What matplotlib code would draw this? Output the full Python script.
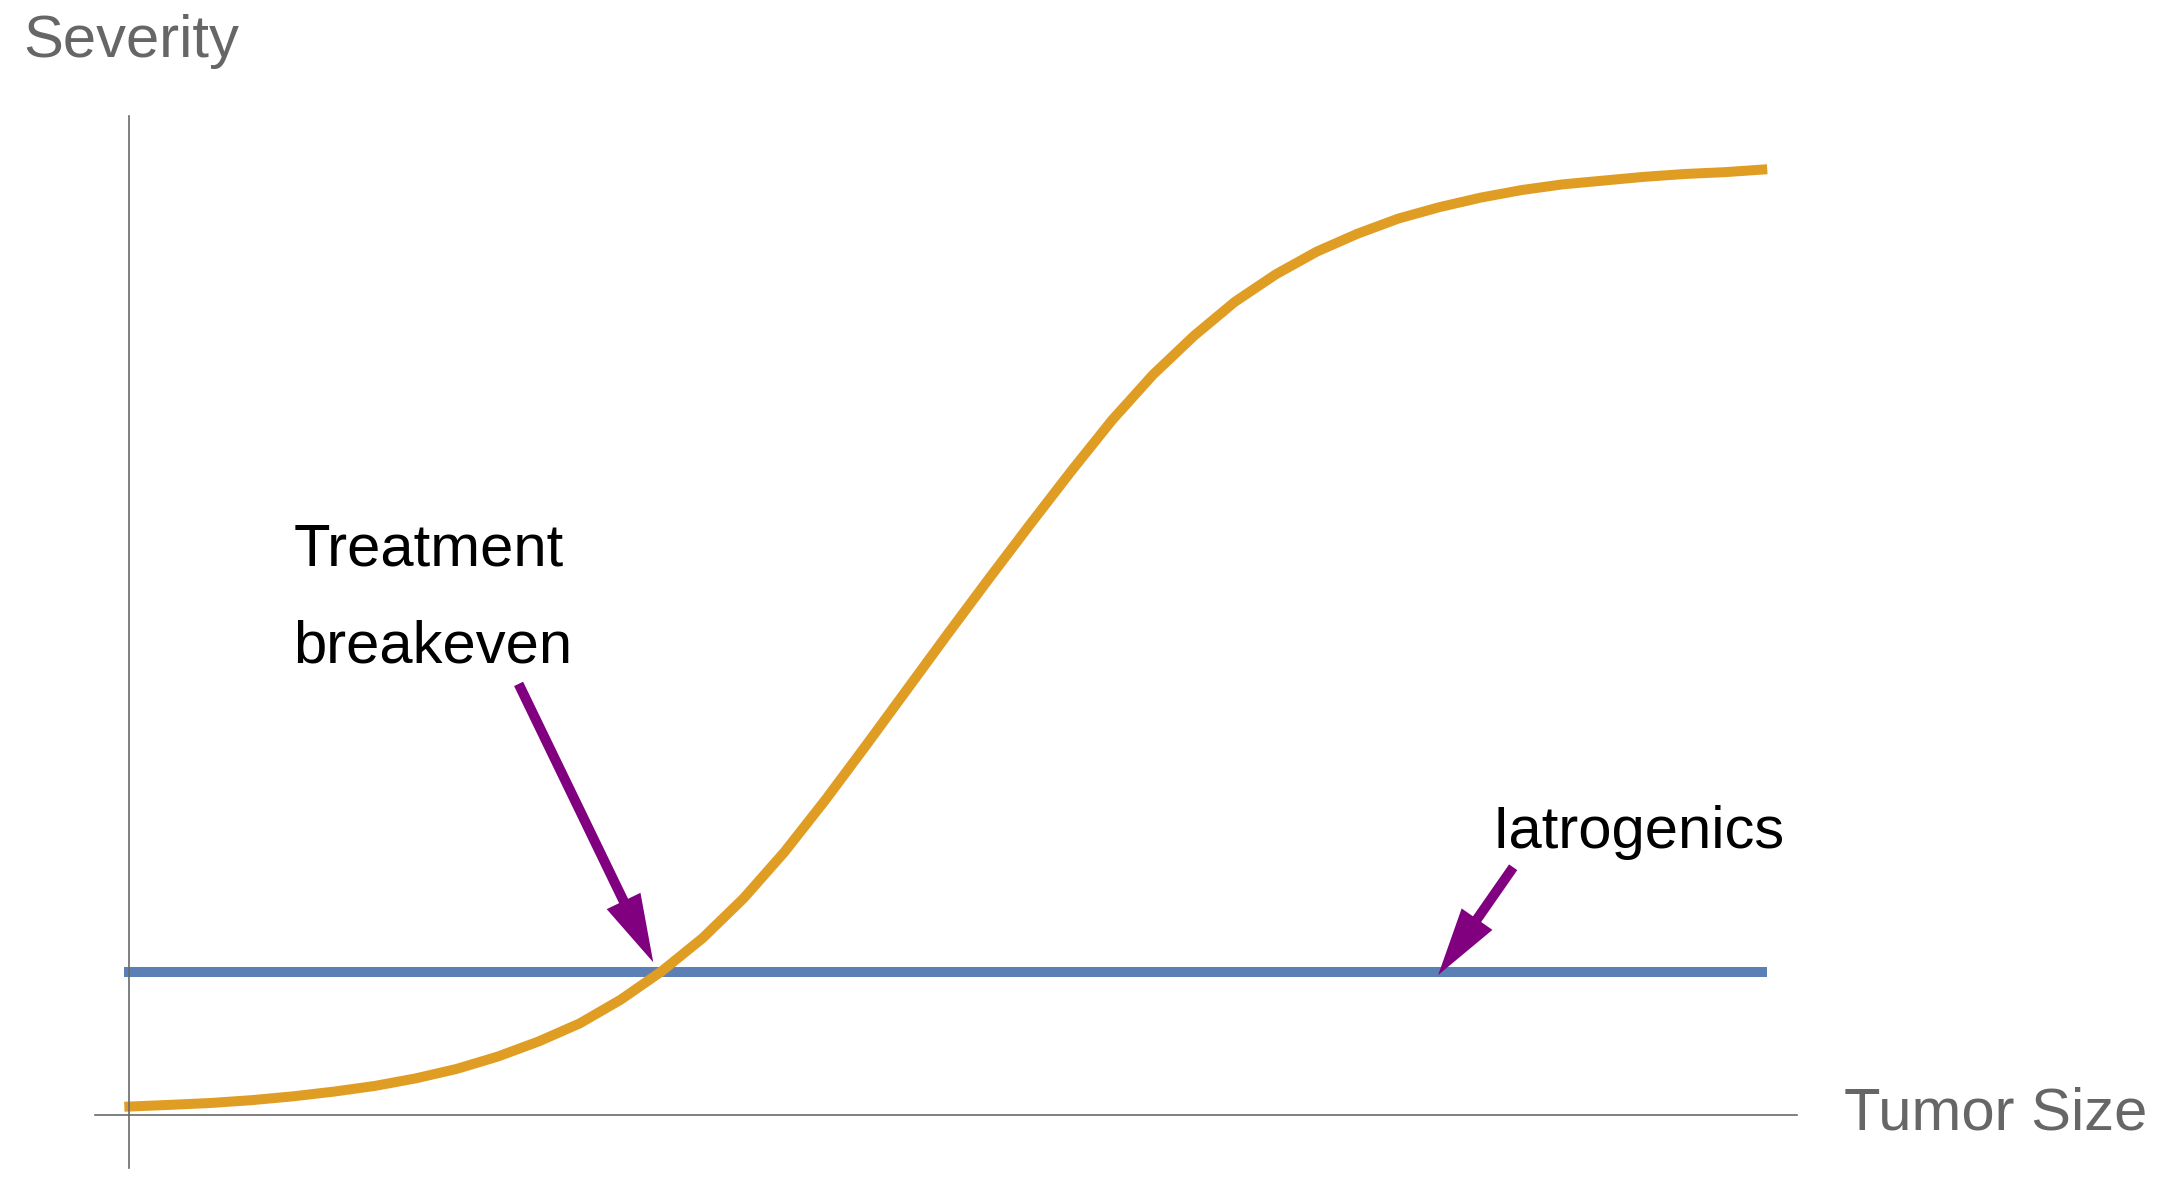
import matplotlib.pyplot as plt

# severity curve (tumor size, severity)
size = [-0.03, 0.25, 0.5, 0.75, 1.0, 1.25, 1.5, 1.75, 2.0, 2.25, 2.5, 2.75,
        3.0, 3.25, 3.5, 3.75, 4.0, 4.25, 4.5, 4.75, 5.0, 5.25, 5.5, 5.75,
        6.0, 6.25, 6.5, 6.75, 7.0, 7.25, 7.5, 7.75, 8.0, 8.25, 8.5, 8.75,
        9.0, 9.25, 9.5, 9.75, 10.0]
severity = [0.09, 0.11, 0.13, 0.16, 0.20, 0.25, 0.31, 0.39, 0.49, 0.62, 0.78,
            0.97, 1.22, 1.52, 1.87, 2.29, 2.78, 3.33, 3.91, 4.50, 5.09, 5.67,
            6.24, 6.80, 7.34, 7.82, 8.23, 8.59, 8.88, 9.12, 9.31, 9.47, 9.59,
            9.69, 9.77, 9.83, 9.87, 9.91, 9.94, 9.96, 9.99]

# flat iatrogenics level
iatro_x = [-0.03, 10.0]
iatro_y = [1.51, 1.51]

# annotations: label, arrow tail, arrow tip
breakeven_text = ['Treatment', 'breakeven']
breakeven_tail = (2.377, 4.555)
breakeven_tip = (3.199, 1.616)
iatro_text = 'Iatrogenics'
iatro_tail = (8.449, 2.619)
iatro_tip = (7.991, 1.481)

plt.rcParams['font.family'] = ['Liberation Sans', 'DejaVu Sans']

fig = plt.figure(figsize=(21.61, 11.97), dpi=100)
ax = fig.add_axes([0, 0, 1, 1])
ax.set_xlim(-0.789, 12.404)
ax.set_ylim(-0.863, 11.777)

ax.plot(iatro_x, iatro_y, color='#5b80b5', lw=7.2, solid_capstyle='butt')
ax.plot(size, severity, color='#e09d24', lw=7.2, solid_capstyle='butt',
        solid_joinstyle='round')

# axes crossing at the origin
for side in ['top', 'right']:
    ax.spines[side].set_visible(False)
ax.spines['left'].set_position(('data', 0))
ax.spines['bottom'].set_position(('data', 0))
ax.spines['left'].set_bounds(-0.556, 10.55)
ax.spines['bottom'].set_bounds(-0.209, 10.18)
for side in ['left', 'bottom']:
    ax.spines[side].set_color('#6a6a6a')
    ax.spines[side].set_linewidth(1.2)
ax.set_xticks([])
ax.set_yticks([])

gray = '#666666'
fs = 43
ax.text(-0.649, 11.175, 'Severity', fontsize=fs, color=gray, va='baseline')
ax.text(10.468, -0.155, 'Tumor Size', fontsize=fs, color=gray, va='baseline')

ax.text(1.005, 5.81, breakeven_text[0], fontsize=fs, color='black', va='baseline')
ax.text(1.0, 4.78, breakeven_text[1], fontsize=fs, color='black', va='baseline')
ax.text(8.325, 2.82, iatro_text, fontsize=fs, color='black', va='baseline')

arrow_style = 'simple,head_length=49,head_width=27,tail_width=7.2'
for tail, tip in [(breakeven_tail, breakeven_tip), (iatro_tail, iatro_tip)]:
    ax.annotate('', xy=tip, xytext=tail,
                arrowprops=dict(arrowstyle=arrow_style, mutation_scale=1,
                                color='#800080', lw=0,
                                shrinkA=0, shrinkB=0))

fig.savefig('out.png', dpi=100)
